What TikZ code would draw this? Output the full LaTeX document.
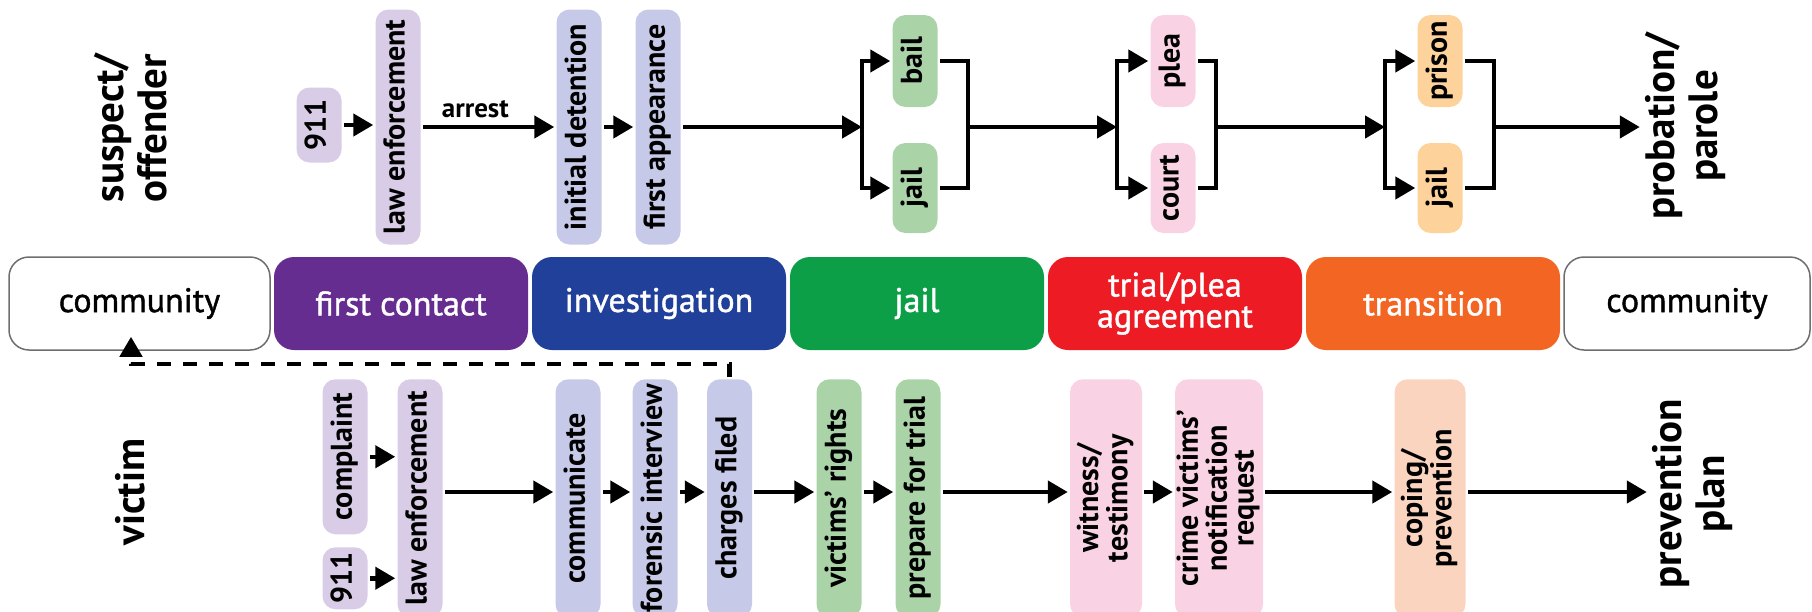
\documentclass[tikz,border=0pt]{standalone}
\usepackage{fontspec}
\setmainfont{PT Sans}
\newfontfamily\bandfont[FakeBold=1.2]{PT Sans}
\usetikzlibrary{arrows.meta}

\definecolor{lav}{HTML}{D8CCE6}
\definecolor{peri}{HTML}{C7C9E8}
\definecolor{mint}{HTML}{AAD4A8}
\definecolor{blush}{HTML}{F9D3E3}
\definecolor{apricot}{HTML}{FDD29B}
\definecolor{peach}{HTML}{FBD4C0}
\definecolor{contactc}{HTML}{662D91}
\definecolor{investc}{HTML}{21409A}
\definecolor{jailc}{HTML}{0C9F48}
\definecolor{trialc}{HTML}{ED1C24}
\definecolor{transc}{HTML}{F26522}
\definecolor{commgray}{HTML}{6D6E71}

\newcommand{\vtext}[1]{\rotatebox{90}{\begin{tabular}{@{}c@{}}#1\end{tabular}}}

\begin{document}
\begin{tikzpicture}[x=1pt, y=-1pt, line width=4.5pt,
  arr/.style={-{Triangle[length=20pt,width=22pt]}},
  backarr/.style={arr, dash pattern=on 14pt off 12pt, shorten >=-14pt},
  stage/.style={rounded corners=20pt, minimum width=254pt, minimum height=93pt, inner sep=0pt,
    text=white, align=center, font=\bandfont\fontsize{34}{31}\selectfont},
  comm/.style={stage, draw=commgray, line width=1.5pt, fill=white, text=black},
  vbox/.style={rounded corners=13pt, minimum width=45pt, inner sep=0pt, font=\bfseries\fontsize{30}{26}\selectfont},
  vlong/.style={vbox, minimum height=238pt, anchor=north},
  sidelabel/.style={inner sep=2pt, font=\bfseries\fontsize{41}{43}\selectfont}]
\useasboundingbox (0,0) rectangle (1812,611);
\clip (0,0) rectangle (1812,611);

\node[sidelabel] (offender) at (136,128) {\vtext{suspect/\\offender}};
\node[vbox, fill=lav, minimum height=75pt] (o911) at (319,125) {\vtext{911}};
\node[vbox, fill=lav, minimum height=235pt] (olaw) at (398,127) {\vtext{law enforcement}};
\node[vbox, fill=peri, minimum height=235pt] (odet) at (579,127) {\vtext{initial detention}};
\node[vbox, fill=peri, minimum height=235pt] (oapp) at (658,127) {\vtext{first appearance}};
\node[vbox, fill=mint, minimum height=92pt] (obail) at (915,61) {\vtext{bail}};
\node[vbox, fill=mint, minimum height=90pt] (ojail) at (915,188) {\vtext{jail}};
\node[vbox, fill=blush, minimum height=92pt] (oplea) at (1173,61) {\vtext{plea}};
\node[vbox, fill=blush, minimum height=90pt] (ocourt) at (1173,188) {\vtext{court}};
\node[vbox, fill=apricot, minimum height=92pt] (oprison) at (1440,61) {\vtext{prison}};
\node[vbox, fill=apricot, minimum height=90pt] (ojail2) at (1440,188) {\vtext{jail}};
\node[sidelabel] (parole) at (1687,126) {\vtext{probation/\\parole}};

\coordinate (s1) at (862,127);
\coordinate (m1) at (968,127);
\coordinate (s2) at (1117,127);
\coordinate (m2) at (1216,127);
\coordinate (s3) at (1385,127);
\coordinate (m3) at (1494,127);

\draw[arr] (o911.east) -- (o911.east -| olaw.west);
\draw[arr] (olaw.east) -- node[above=4pt, pos=0.4, font=\bfseries\fontsize{27}{29}\selectfont] (arrest) {arrest} (olaw.east -| odet.west);
\draw[arr] (odet.east) -- (odet.east -| oapp.west);
\draw[arr] (oapp.east) -- (s1);
\draw[arr] (s1) |- (obail.west);
\draw[arr] (s1) |- (ojail.west);
\draw (obail.east) -| (m1);
\draw (ojail.east) -| (m1);
\draw[arr] (m1) -- (s2);
\draw[arr] (s2) |- (oplea.west);
\draw[arr] (s2) |- (ocourt.west);
\draw (oplea.east) -| (m2);
\draw (ocourt.east) -| (m2);
\draw[arr] (m2) -- (s3);
\draw[arr] (s3) |- (oprison.west);
\draw[arr] (s3) |- (ojail2.west);
\draw (oprison.east) -| (m3);
\draw (ojail2.east) -| (m3);
\draw[arr] (m3) -- (m3 -| parole.west);

\node[comm, minimum width=261pt] (comm1) at (139.5,303.5) {community};
\node[stage, fill=contactc] (first) at (401,303.5) {first contact};
\node[stage, fill=investc] (invest) at (659,303.5) {investigation};
\node[stage, fill=jailc] (jail) at (917,303.5) {jail};
\node[stage, fill=trialc] (trial) at (1175,303.5) {trial/plea\\agreement};
\node[stage, fill=transc] (trans) at (1433,303.5) {transition};
\node[comm, minimum width=246pt] (comm2) at (1687,303.5) {community};

\node[sidelabel] (victim) at (136,492) {\vtext{victim}};
\node[vbox, fill=lav, minimum height=155pt, anchor=north] (vcompl) at (345,377) {\vtext{complaint}};
\node[vbox, fill=lav, minimum height=62pt, anchor=north] (v911) at (345,545) {\vtext{911}};
\node[vlong, fill=lav] (vlaw) at (420,377) {\vtext{law enforcement}};
\node[vlong, fill=peri] (vcomm) at (578,377) {\vtext{communicate}};
\node[vlong, fill=peri] (vforen) at (655,377) {\vtext{forensic interview}};
\node[vlong, fill=peri] (vcharge) at (729.5,377) {\vtext{charges filed}};
\node[vlong, fill=mint] (vrights) at (839,377) {\vtext{victims’ rights}};
\node[vlong, fill=mint] (vprep) at (918,377) {\vtext{prepare for trial}};
\node[vlong, fill=blush, minimum width=72pt] (vwit) at (1106,377) {\vtext{witness/\\testimony}};
\node[vlong, fill=blush, minimum width=88pt] (vcrime) at (1219,377) {\vtext{crime victims’\\notification\\request}};
\node[vlong, fill=peach, minimum width=71pt] (vcope) at (1430,377) {\vtext{coping/\\prevention}};
\node[sidelabel] (plan) at (1694,494) {\vtext{prevention\\plan}};

\coordinate (vrow) at (0,492);
\coordinate (ret) at (131,364);

\draw[arr] (vcompl.east) -- (vcompl.east -| vlaw.west);
\draw[arr] (v911.east) -- (v911.east -| vlaw.west);
\foreach \a/\b in {vlaw/vcomm, vcomm/vforen, vforen/vcharge, vcharge/vrights, vrights/vprep,
  vprep/vwit, vwit/vcrime, vcrime/vcope, vcope/plan}
  \draw[arr] (\a.east |- vrow) -- (\b.west |- vrow);
\draw[backarr] (vcharge.north) |- (ret) -- (ret |- comm1.south);
\end{tikzpicture}
\end{document}
